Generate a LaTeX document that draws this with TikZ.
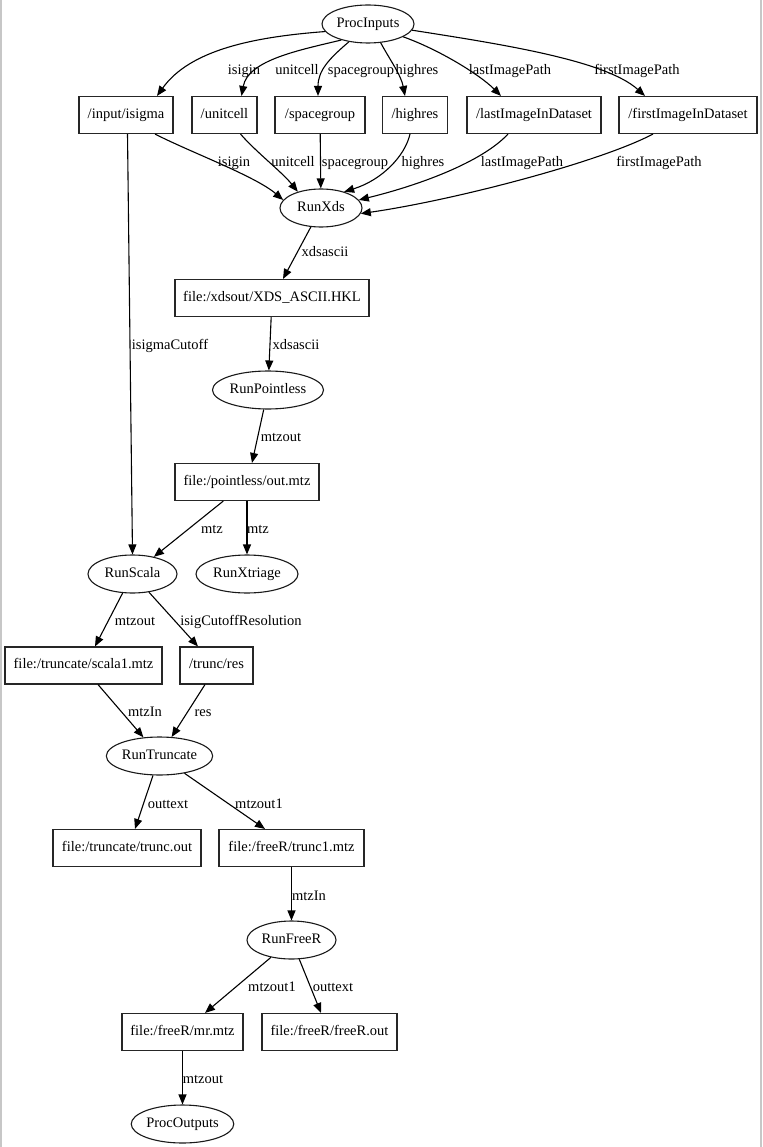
\documentclass[tikz,border=0pt]{standalone}
\usepackage{fontspec}
\setmainfont{Liberation Serif}
\usetikzlibrary{arrows.meta,shapes.geometric}
\begin{document}
\begin{tikzpicture}[x=1pt,y=-1pt,
  every node/.style={font=\fontsize{14.5}{16}\selectfont, text height=9.8pt, text depth=3pt},
  boxn/.style={draw=black!85, rectangle, line width=1.1pt, minimum height=37pt, inner sep=0pt},
  elln/.style={draw=black!90, ellipse, line width=1.1pt, minimum height=38pt, inner sep=0pt},
  lbl/.style={inner sep=0pt},
  edge/.style={line width=1.1pt, -{Triangle[length=10pt,width=8pt]}},
  frame/.style={draw=black!22, line width=1.6pt}
]
\useasboundingbox (0,0) rectangle (762,1147);
\draw[frame] (0.8,0) -- (0.8,1147);
\draw[frame] (760.8,0) -- (760.8,1147);

% nodes
\node[elln, minimum width=92pt] (pi) at (368,24) {ProcInputs};
\node[boxn, minimum width=94pt] (isig) at (126,115) {/input/isigma};
\node[boxn, minimum width=65pt] (unit) at (224.5,115) {/unitcell};
\node[boxn, minimum width=90pt] (space) at (320,115) {/spacegroup};
\node[boxn, minimum width=65pt] (high) at (415,115) {/highres};
\node[boxn, minimum width=134pt] (last) at (534,115) {/lastImageInDataset};
\node[boxn, minimum width=138pt] (first) at (688,115) {/firstImageInDataset};
\node[elln, minimum width=82pt] (xds) at (321,208) {RunXds};
\node[boxn, minimum width=194pt] (xdsf) at (272,298) {file:/xdsout/XDS\_ASCII.HKL};
\node[elln, minimum width=111pt] (pointless) at (268,390) {RunPointless};
\node[boxn, minimum width=144pt] (outmtz) at (247,482) {file:/pointless/out.mtz};
\node[elln, minimum width=89pt] (scala) at (132.5,574) {RunScala};
\node[elln, minimum width=102pt] (xtriage) at (247,574) {RunXtriage};
\node[boxn, minimum width=157pt] (scala1) at (83.5,665.5) {file:/truncate/scala1.mtz};
\node[boxn, minimum width=73pt] (tres) at (216.5,665.5) {/trunc/res};
\node[elln, minimum width=103pt] (trunc) at (159.5,756) {RunTruncate};
\node[boxn, minimum width=148pt] (tout) at (127,848) {file:/truncate/trunc.out};
\node[boxn, minimum width=145pt] (t1) at (291.5,848) {file:/freeR/trunc1.mtz};
\node[elln, minimum width=89pt] (freer) at (291.5,940) {RunFreeR};
\node[boxn, minimum width=121pt] (mr) at (182.5,1032) {file:/freeR/mr.mtz};
\node[boxn, minimum width=135pt] (fro) at (329.5,1032) {file:/freeR/freeR.out};
\node[elln, minimum width=100pt] (po) at (182.5,1124) {ProcOutputs};

% top edges
\draw[edge] (pi.190) .. controls (253,37) and (190,50) .. ([xshift=31pt]isig.north);
\draw[edge] (pi.211) .. controls (300,50) and (248,60) .. ([xshift=17pt]unit.north);
\draw[edge] (pi.223) .. controls (330,58) and (318,70) .. ([xshift=-2pt]space.north);
\draw[edge] (pi.304) .. controls (390,60) and (401,75) .. ([xshift=-10pt]high.north);
\draw[edge] (pi.340) .. controls (440,50) and (480,75) .. ([xshift=-33pt]last.north);
\draw[edge] (pi.352) .. controls (500,44) and (605,60) .. ([xshift=-43pt]first.north);

% edges into RunXds
\draw[edge] ([xshift=29pt]isig.south) .. controls (190,152) and (255,176) .. (xds.168);
\draw[edge] ([xshift=16pt]unit.south) .. controls (256,152) and (282,172) .. (xds.145);
\draw[edge] (space) -- (xds);
\draw[edge] ([xshift=-5pt]high.south) .. controls (405,156) and (382,180) .. (xds.35);
\draw[edge] ([xshift=-26pt]last.south) .. controls (482,162) and (420,185) .. (xds.12);
\draw[edge] ([xshift=-35pt]first.south) .. controls (600,162) and (455,200) .. (xds.352);

\draw[edge] ([xshift=1.5pt]isig.south) -- (scala.north);
\draw[edge] (xds) -- ([xshift=11pt]xdsf.north);
\draw[edge] (xdsf) -- (pointless);
\draw[edge] (pointless) -- ([xshift=5pt]outmtz.north);
\draw[edge] (outmtz) -- (scala);
\draw[edge] (outmtz) -- (xtriage);
\draw[edge] (scala) -- ([xshift=11.5pt]scala1.north);
\draw[edge] (scala) -- ([xshift=-18.5pt]tres.north);
\draw[edge] ([xshift=14.5pt]scala1.south) -- (trunc);
\draw[edge] ([xshift=-11.5pt]tres.south) -- (trunc);
\draw[edge] (trunc) -- ([xshift=8pt]tout.north);
\draw[edge] (trunc) -- ([xshift=-26.5pt]t1.north);
\draw[edge] (t1) -- (freer);
\draw[edge] (freer) -- ([xshift=22.5pt]mr.north);
\draw[edge] (freer) -- ([xshift=-8.5pt]fro.north);
\draw[edge] (mr) -- (po);

% labels
\node[lbl] (l1) at (244,71) {isigin};
\node[lbl] (l2) at (297,71) {unitcell};
\node[lbl] (l3) at (361,71) {spacegroup};
\node[lbl] (l4) at (417,71) {highres};
\node[lbl] (l5) at (510,71) {lastImagePath};
\node[lbl] (l6) at (637,71) {firstImagePath};
\node[lbl] (l7) at (234,163) {isigin};
\node[lbl] (l8) at (293,163) {unitcell};
\node[lbl] (l9) at (355,163) {spacegroup};
\node[lbl] (l10) at (423,163) {highres};
\node[lbl] (l11) at (522,163) {lastImagePath};
\node[lbl] (l12) at (659,163) {firstImagePath};
\node[lbl] (l13) at (170,346) {isigmaCutoff};
\node[lbl] (l14) at (325,253) {xdsascii};
\node[lbl] (l15) at (296,346) {xdsascii};
\node[lbl] (l16) at (281,438) {mtzout};
\node[lbl] (l17) at (212,530) {mtz};
\node[lbl] (l18) at (258,530) {mtz};
\node[lbl] (l19) at (135,622) {mtzout};
\node[lbl] (l20) at (241,622) {isigCutoffResolution};
\node[lbl] (l21) at (145,713) {mtzIn};
\node[lbl] (l22) at (203,713) {res};
\node[lbl] (l23) at (168,805) {outtext};
\node[lbl] (l24) at (259,805) {mtzout1};
\node[lbl] (l25) at (309,897) {mtzIn};
\node[lbl] (l26) at (272,988) {mtzout1};
\node[lbl] (l27) at (333,988) {outtext};
\node[lbl] (l28) at (203,1080) {mtzout};
\end{tikzpicture}
\end{document}
